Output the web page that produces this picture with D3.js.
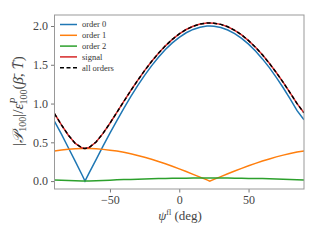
<!DOCTYPE html>
<html>
<head>
<meta charset="utf-8">
<script src="https://cdn.jsdelivr.net/npm/d3@7"></script>
<style>
body { margin: 0; background: #fff; }
svg text { font-family: "DejaVu Serif", "Liberation Serif", serif; }
</style>
</head>
<body>
<div id="chart"></div>
<script>
// data
var psi = [-90,-85,-80,-75,-70,-68,-65,-60,-55,-50,-45,-40,-35,-30,-25,-20,-15,-10,-5,0,5,10,15,20,22,25,30,35,40,45,50,55,60,65,70,75,80,85,90];
var order0 = [0.770,0.605,0.430,0.255,0.075,0.000,0.105,0.278,0.450,0.618,0.781,0.939,1.089,1.231,1.364,1.486,1.597,1.696,1.782,1.854,1.913,1.956,1.985,1.999,2.000,1.997,1.981,1.949,1.902,1.841,1.766,1.677,1.576,1.463,1.338,1.204,1.060,0.908,0.790];
var order1 = [0.389,0.402,0.411,0.417,0.420,0.420,0.419,0.416,0.409,0.399,0.387,0.371,0.352,0.331,0.307,0.281,0.253,0.223,0.191,0.157,0.123,0.087,0.051,0.015,0.000,0.022,0.058,0.095,0.130,0.164,0.197,0.229,0.259,0.286,0.312,0.335,0.356,0.374,0.389];
var order2 = [0.015,0.012,0.008,0.005,0.002,0.000,0.002,0.006,0.009,0.012,0.016,0.019,0.022,0.025,0.027,0.030,0.032,0.034,0.036,0.037,0.038,0.039,0.040,0.040,0.040,0.040,0.040,0.039,0.038,0.037,0.035,0.034,0.032,0.029,0.027,0.024,0.021,0.018,0.015];
var signal = [0.870,0.725,0.592,0.486,0.426,0.420,0.433,0.504,0.615,0.746,0.886,1.027,1.166,1.299,1.425,1.542,1.649,1.744,1.828,1.898,1.955,1.997,2.025,2.039,2.040,2.037,2.021,1.990,1.945,1.885,1.812,1.726,1.628,1.519,1.400,1.273,1.138,0.999,0.880];
var allOrders = signal.slice();

var xTicks = [-50, 0, 50];
var yTicks = [0.0, 0.5, 1.0, 1.5, 2.0];

var series = [
	{name: "order 0", values: order0, color: "#1f77b4", dash: null},
	{name: "order 1", values: order1, color: "#ff7f0e", dash: null},
	{name: "order 2", values: order2, color: "#2ca02c", dash: null},
	{name: "signal", values: signal, color: "#d62728", dash: null},
	{name: "all orders", values: allOrders, color: "#000000", dash: "4,2.5"}
];

var W = 320, H = 240;
var m = {left: 54.5, right: 304, top: 15, bottom: 189};
var serif = "'Liberation Serif', 'DejaVu Serif', serif";

var svg = d3.select("#chart").append("svg")
	.attr("width", W).attr("height", H);

var x = d3.scaleLinear().domain([-90, 90]).range([m.left, m.right]);
var y = d3.scaleLinear().domain([-0.102, 2.142]).range([m.bottom, m.top]);

// lines
var plot = svg.append("g");
plot.append("clipPath").attr("id", "clip")
	.append("rect")
	.attr("x", m.left).attr("y", m.top)
	.attr("width", m.right - m.left).attr("height", m.bottom - m.top);

series.forEach(function(s){
	var line = d3.line()
		.x(function(d, i){ return x(psi[i]); })
		.y(function(d){ return y(d); });
	plot.append("path")
		.datum(s.values)
		.attr("clip-path", "url(#clip)")
		.attr("fill", "none")
		.attr("stroke", s.color)
		.attr("stroke-width", 1.5)
		.attr("stroke-dasharray", s.dash)
		.attr("d", line);
});

// axes
var xAxis = d3.axisBottom(x).tickValues(xTicks).tickSize(3.5).tickPadding(3)
	.tickFormat(function(d){ return d < 0 ? "\u2212" + Math.abs(d) : d; });
var yAxis = d3.axisLeft(y).tickValues(yTicks).tickSize(3.5).tickPadding(3)
	.tickFormat(d3.format(".1f"));

var gx = svg.append("g").attr("transform", "translate(0," + m.bottom + ")").call(xAxis);
var gy = svg.append("g").attr("transform", "translate(" + m.left + ",0)").call(yAxis);
[gx, gy].forEach(function(g){
	g.attr("font-family", null).attr("font-size", null);
	g.select(".domain").remove();
	g.selectAll(".tick line").attr("stroke", "#555").attr("stroke-width", 0.8);
	g.selectAll(".tick text").attr("fill", "#444").style("font-size", "12px")
		.style("font-family", serif);
});

// frame
svg.append("rect")
	.attr("x", m.left).attr("y", m.top)
	.attr("width", m.right - m.left).attr("height", m.bottom - m.top)
	.attr("fill", "none").attr("stroke", "#999").attr("stroke-width", 1);

// legend
var leg = svg.append("g").attr("transform", "translate(60,24.5)");
series.forEach(function(s, i){
	var row = leg.append("g").attr("transform", "translate(0," + (i * 10.8) + ")");
	row.append("line")
		.attr("x1", 0).attr("x2", 17).attr("y1", 0).attr("y2", 0)
		.attr("stroke", s.color).attr("stroke-width", 1.5)
		.attr("stroke-dasharray", s.dash);
	row.append("text")
		.attr("x", 22).attr("y", 2.8)
		.attr("fill", "#333")
		.style("font-family", serif)
		.style("font-size", "8.5px")
		.text(s.name);
});

// x label
var xl = svg.append("text")
	.attr("x", 180).attr("y", 220)
	.attr("text-anchor", "middle")
	.attr("fill", "#444")
	.style("font-family", serif)
	.style("font-size", "13px");
xl.append("tspan").style("font-style", "italic").text("\u03c8");
xl.append("tspan").attr("dy", -5).style("font-size", "8px").text("fl");
xl.append("tspan").attr("dy", 5).text(" (deg)");

// y label
var yl = svg.append("text")
	.attr("transform", "translate(23,101) rotate(-90)")
	.attr("text-anchor", "middle")
	.attr("fill", "#444")
	.style("font-family", serif)
	.style("font-size", "15px");
yl.append("tspan").text("|");
yl.append("tspan").style("font-style", "italic").text("\ud835\udcab");
yl.append("tspan").attr("dy", 3).style("font-size", "10px").text("100");
yl.append("tspan").attr("dy", -3).text("|/");
yl.append("tspan").style("font-style", "italic").text("\u03b5");
yl.append("tspan").attr("dy", -6).style("font-size", "10px").style("font-style", "italic").text("P");
yl.append("tspan").attr("dx", -7).attr("dy", 10).style("font-size", "10px").text("100");
yl.append("tspan").attr("dy", -4).text("(");
yl.append("tspan").style("font-style", "italic").text("\u03b2\u0304");
yl.append("tspan").text(", ");
yl.append("tspan").style("font-style", "italic").text("T\u0304");
yl.append("tspan").text(")");
</script>
</body>
</html>
